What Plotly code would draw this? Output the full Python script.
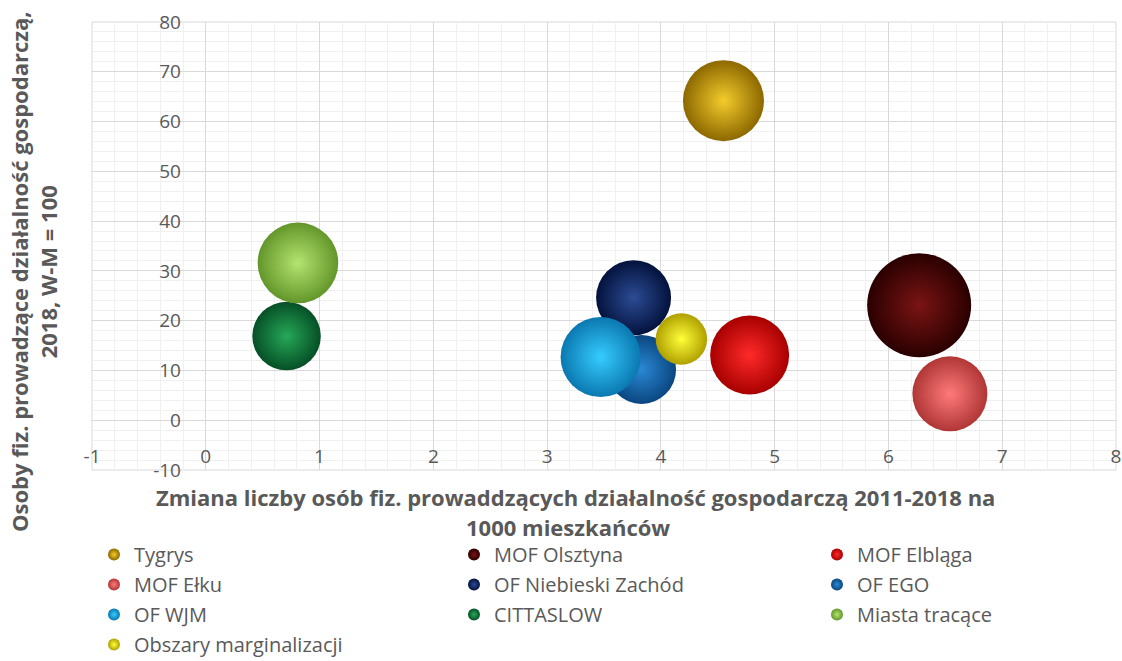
import plotly.graph_objects as go

# Areas of the local functional units
series = ["Tygrys", "MOF Olsztyna", "MOF Elbląga", "MOF Ełku", "OF Niebieski Zachód",
          "OF EGO", "OF WJM", "CITTASLOW", "Miasta tracące", "Obszary marginalizacji"]
# change of self-employed persons 2011-2018 per 1000 inhabitants
change_2011_2018 = [4.55, 6.27, 4.78, 6.54, 3.76, 3.83, 3.47, 0.71, 0.81, 4.18]
# self-employed persons 2018, W-M = 100
index_2018 = [64.2, 23.1, 13.1, 5.3, 24.6, 10.2, 12.7, 16.9, 31.6, 16.3]
# bubble size (area)
bubble_size = [60.7, 100.0, 57.7, 52.0, 52.0, 44.0, 59.2, 43.4, 60.1, 24.5]

x_ticks = [-1, 0, 1, 2, 3, 4, 5, 6, 7, 8]
y_ticks = [-10, 0, 10, 20, 30, 40, 50, 60, 70, 80]

x_title = ["Zmiana liczby osób fiz. prowaddzących działalność gospodarczą 2011-2018 na",
           "1000 mieszkańców"]
y_title = "Osoby fiz. prowadzące działalność gospodarczą,<br>2018, W-M = 100"

# sphere shading: edge colour, highlight colour
edge_colors = ["#8c6800", "#2a0000", "#a80000", "#b03636", "#03123d",
               "#0a4680", "#0a78b0", "#064f26", "#63962a", "#b0a000"]
light_colors = ["#f4cc2c", "#7a1414", "#ff2a2a", "#ff7a7a", "#2c4c94",
                "#2a88d4", "#36ccff", "#26a858", "#b4e470", "#ffff3a"]

# legend columns (legend id per series, filled row by row in three columns)
legend_ids = ["legend", "legend2", "legend3", "legend", "legend2",
              "legend3", "legend", "legend2", "legend3", "legend"]

TEXT = "#595959"
FONT = "Open Sans"
MAX_D = 104
sizeref = 2.0 * max(bubble_size) / MAX_D ** 2

fig = go.Figure()

for name, xv, yv, s, ec, lc, lg in zip(series, change_2011_2018, index_2018,
                                       bubble_size, edge_colors, light_colors, legend_ids):
    fig.add_trace(go.Scatter(
        x=[xv], y=[yv], name=name, mode="markers", legend=lg, legendgroup=name,
        marker=dict(size=[s], sizemode="area", sizeref=sizeref, opacity=1,
                    color=ec, gradient=dict(type="radial", color=lc),
                    line=dict(width=0)),
        hovertemplate=name + ": %{x}, %{y}<extra></extra>",
    ))

W, H = 1122, 661
L, R, T, B = 92, 6, 22, 191
pw = W - L - R
ph = H - T - B


def px_x(p):
    return (p - L) / pw


def px_y(p):
    return (H - B - p) / ph


def legend_box(x_px):
    return dict(orientation="v", x=px_x(x_px), xanchor="left",
                y=px_y(535), yanchor="top",
                itemsizing="constant", itemwidth=30, tracegroupgap=1,
                font=dict(family=FONT, size=20, color=TEXT),
                bgcolor="rgba(0,0,0,0)", borderwidth=0)


title_font = dict(family=FONT, size=22, color=TEXT, weight="bold")

fig.update_layout(
    width=W, height=H,
    margin=dict(l=L, r=R, t=T, b=B, autoexpand=False),
    paper_bgcolor="white", plot_bgcolor="white",
    font=dict(family=FONT, color=TEXT, size=19),
    showlegend=True,
    legend=legend_box(94),
    legend2=legend_box(454),
    legend3=legend_box(817),
    xaxis=dict(range=[-1, 8], tickvals=x_ticks, ticktext=[str(v) for v in x_ticks],
               showgrid=True, gridcolor="#d9d9d9", gridwidth=1,
               minor=dict(dtick=0.2, showgrid=True, gridcolor="#f0f0f0", gridwidth=1),
               zeroline=False, showline=False,
               anchor="free", position=10 / 90,
               ticks="outside", ticklen=19, tickcolor="rgba(0,0,0,0)",
               tickfont=dict(size=19, color=TEXT, family=FONT),
               automargin=False, fixedrange=True),
    yaxis=dict(range=[-10, 80], tickvals=y_ticks, ticktext=[str(v) for v in y_ticks],
               showgrid=True, gridcolor="#d9d9d9", gridwidth=1,
               minor=dict(dtick=2, showgrid=True, gridcolor="#f0f0f0", gridwidth=1),
               zeroline=False, showline=False,
               anchor="free", position=1 / 9,
               ticks="outside", ticklen=21, tickcolor="rgba(0,0,0,0)",
               tickfont=dict(size=19, color=TEXT, family=FONT),
               automargin=False, fixedrange=True),
    shapes=[dict(type="rect", xref="paper", yref="paper", x0=0, x1=1, y0=0, y1=1,
                 line=dict(color="#d9d9d9", width=1), layer="below")],
    annotations=[
        dict(text=x_title[0], xref="paper", yref="paper", x=px_x(575), y=px_y(497),
             xanchor="center", yanchor="middle", showarrow=False, font=title_font),
        dict(text=x_title[1], xref="paper", yref="paper", x=px_x(568), y=px_y(527),
             xanchor="center", yanchor="middle", showarrow=False, font=title_font),
        dict(text=y_title, xref="paper", yref="paper", x=px_x(33), y=px_y(272),
             xanchor="center", yanchor="middle", showarrow=False, align="center",
             textangle=-90, font=title_font),
    ],
)

fig.write_html("out.html")
